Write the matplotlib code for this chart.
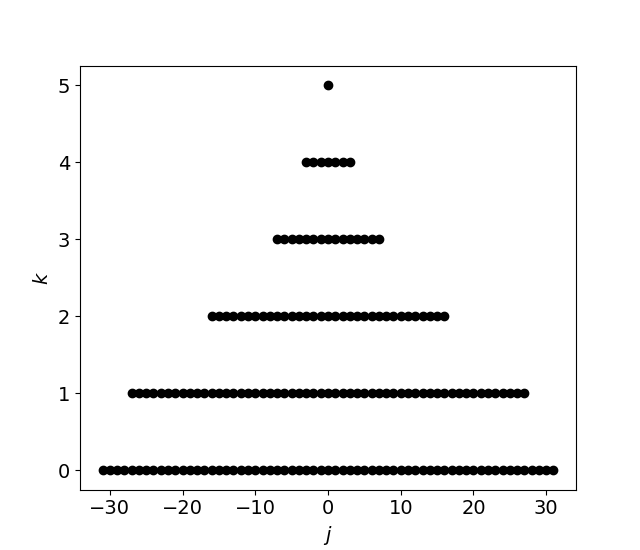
import numpy as np
import matplotlib
matplotlib.use('Agg')
import matplotlib.pyplot as plt

# levels k and the half-width of the j range at each level
k_levels = [0, 1, 2, 3, 4, 5]
j_halfwidth = [31, 27, 16, 7, 3, 0]

plt.rcParams['font.size'] = 14

fig, ax = plt.subplots(figsize=(6.4, 5.5), dpi=100)

for k, w in zip(k_levels, j_halfwidth):
    j = np.arange(-w, w + 1)
    ax.plot(j, np.full(j.shape, k), 'o', color='black')

ax.set_xlabel(r'$j$')
ax.set_ylabel(r'$k$')
ax.set_xticks([-30, -20, -10, 0, 10, 20, 30])

fig.savefig('out.png', dpi=100)
